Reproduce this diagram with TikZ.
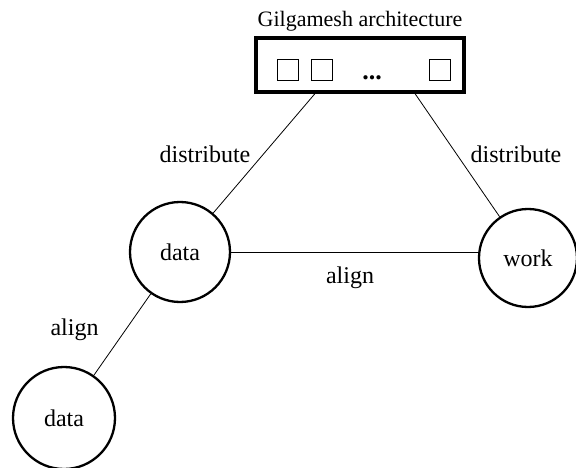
\documentclass[tikz,border=0pt]{standalone}
\usepackage{fontspec}
\setmainfont{Liberation Serif}
\begin{document}
\begin{tikzpicture}[x=1pt,y=-1pt,
  every node/.style={font=\fontsize{24}{28}\selectfont},
  roundnode/.style={draw,circle,line width=2.3pt,minimum size=100pt,inner sep=0pt},
  archbox/.style={draw,rectangle,line width=3.2pt,minimum width=208pt,minimum height=54pt,inner sep=0pt},
  unitbox/.style={draw,rectangle,line width=0.9pt,minimum size=21pt,inner sep=0pt},
  link/.style={line width=0.8pt},
  lbl/.style={anchor=base,inner sep=0pt}]
\useasboundingbox (0,0) rectangle (576,468);

% architecture box with its processing units
\node[archbox] (arch) at (360,65) {};
\node[unitbox] (u1) at (288,70) {};
\node[unitbox] (u2) at (322,70) {};
\node[unitbox] (u3) at (439.5,70) {};
\node[lbl,font=\fontsize{26}{30}\selectfont\bfseries] (dots) at (372,80) {...};
\node[lbl,font=\fontsize{22}{26}\selectfont] (title) at (360,27) {Gilgamesh architecture};

% data and work nodes
\node[roundnode] (data) at (180,252) {data};
\node[roundnode,minimum size=98pt] (work) at (528,258) {work};
\node[roundnode,minimum size=102pt] (data2) at (64,418) {data};

% connectors
\draw[link] ([xshift=-45pt]arch.south) -- (data);
\draw[link] ([xshift=55pt]arch.south) -- (work);
\draw[link] (data.east) -- (data.east -| work.west);
\draw[link] (data) -- (data2);

% edge labels
\node[lbl] (l1) at (205,163) {distribute};
\node[lbl] (l2) at (516,163) {distribute};
\node[lbl] (l3) at (350,283) {align};
\node[lbl] (l4) at (74.5,335) {align};
\end{tikzpicture}
\end{document}
